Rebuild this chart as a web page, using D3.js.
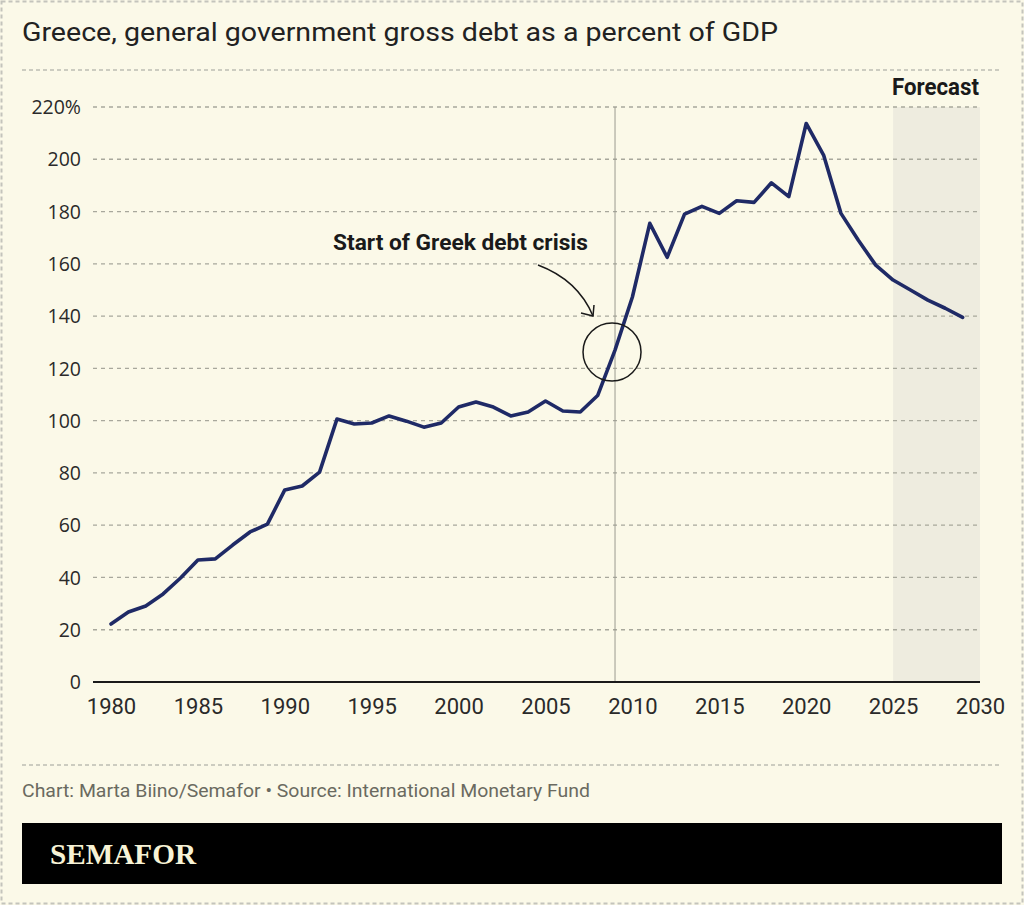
<!DOCTYPE html>
<html>
<head>
<meta charset="utf-8">
<script src="https://cdn.jsdelivr.net/npm/d3@7"></script>
<style>
html,body{margin:0;padding:0;background:#fbf9e8;}
svg{display:block;}
</style>
</head>
<body>
<svg id="chart" width="1024" height="905"></svg>
<script>
const years = [1980,1981,1982,1983,1984,1985,1986,1987,1988,1989,1990,1991,1992,1993,1994,1995,1996,1997,1998,1999,2000,2001,2002,2003,2004,2005,2006,2007,2008,2009,2010,2011,2012,2013,2014,2015,2016,2017,2018,2019,2020,2021,2022,2023,2024,2025,2026,2027,2028,2029];
const debt = [22.2,26.8,29.1,33.7,39.8,46.7,47.1,52.4,57.4,60.4,73.5,75.0,80.3,100.6,98.7,99.1,101.8,99.8,97.5,99.1,105.2,107.1,105.2,101.8,103.3,107.5,103.7,103.3,109.6,127.0,147.3,175.5,162.5,179.0,182.0,179.3,184.1,183.5,191.0,185.7,213.7,201.6,179.3,169.0,159.5,153.8,150.0,146.1,143.0,139.5];
const yTicks = [0,20,40,60,80,100,120,140,160,180,200,220];
const xTicks = [1980,1985,1990,1995,2000,2005,2010,2015,2020,2025,2030];
const forecastRange = [2025,2030];
const crisisYear = 2009;
const title = "Greece, general government gross debt as a percent of GDP";
const annotation = "Start of Greek debt crisis";
const source = "Chart: Marta Biino/Semafor • Source: International Monetary Fund";

const svg = d3.select("#chart");
const W = 1024, H = 905;
const bg = "#fbf9e8";
svg.append("rect").attr("width",W).attr("height",H).attr("fill",bg);
svg.append("rect").attr("x",1.5).attr("y",1.5).attr("width",W-3).attr("height",H-3)
  .attr("fill","none").attr("stroke","#c4c4bc").attr("stroke-width",2).attr("stroke-dasharray","4,3");

const x = d3.scaleLinear().domain([1980,2030]).range([111,980]);
const y = d3.scaleLinear().domain([0,220]).range([682,107]);

svg.append("text").attr("x",22).attr("y",41).text(title)
  .attr("font-family","Roboto, 'Liberation Sans', sans-serif").attr("font-size",25)
  .attr("fill","#222").attr("textLength",756).attr("lengthAdjust","spacingAndGlyphs");
svg.append("line").attr("x1",22).attr("x2",1002).attr("y1",70).attr("y2",70)
  .attr("stroke","#bdbdb3").attr("stroke-width",1.5).attr("stroke-dasharray","4,3");

svg.append("rect").attr("x",x(forecastRange[0])).attr("width",x(forecastRange[1])-x(forecastRange[0]))
  .attr("y",y(220)).attr("height",y(0)-y(220)).attr("fill","#eeecdf");
svg.append("text").attr("x",x(forecastRange[1])-1).attr("y",95).attr("text-anchor","end")
  .text("Forecast").attr("font-family","Roboto, sans-serif").attr("font-weight",700)
  .attr("font-size",23).attr("fill","#1a1a1a").attr("textLength",87).attr("lengthAdjust","spacingAndGlyphs");

const gridG = svg.append("g");
gridG.selectAll("line").data(yTicks.filter(d=>d>0)).join("line")
  .attr("x1",93).attr("x2",980).attr("y1",d=>y(d)).attr("y2",d=>y(d))
  .attr("stroke","#a8a89c").attr("stroke-width",1.3).attr("stroke-dasharray","4,4");

const yAxis = d3.axisLeft(y).tickValues(yTicks).tickSize(0).tickPadding(0)
  .tickFormat(d=> d===220 ? "220%" : d);
const yg = svg.append("g").attr("transform","translate(81,0)").call(yAxis);
yg.select(".domain").remove();
yg.selectAll("text").attr("font-family","'Open Sans', sans-serif").attr("font-size",19.5).attr("fill","#2a2a2a").attr("dy","0.34em");

svg.append("line").attr("x1",x(crisisYear)).attr("x2",x(crisisYear)).attr("y1",y(220)).attr("y2",y(0))
  .attr("stroke","#9a9a90").attr("stroke-width",1);

svg.append("line").attr("x1",93).attr("x2",980).attr("y1",y(0)).attr("y2",y(0))
  .attr("stroke","#1a1a1a").attr("stroke-width",2);

const xAxis = d3.axisBottom(x).tickValues(xTicks).tickSize(0).tickPadding(0).tickFormat(d3.format("d"));
const xg = svg.append("g").attr("transform",`translate(0,${y(0)})`).call(xAxis);
xg.select(".domain").remove();
xg.selectAll("text").attr("font-family","'Liberation Sans Narrow', 'Roboto', sans-serif").attr("font-size",22)
  .attr("fill","#2a2a2a").attr("dy","1.45em");

const line = d3.line().x((d,i)=>x(years[i])).y(d=>y(d));
svg.append("path").datum(debt).attr("d",line).attr("fill","none")
  .attr("stroke","#1f2a66").attr("stroke-width",3.6).attr("stroke-linejoin","round").attr("stroke-linecap","round");

svg.append("text").attr("x",333).attr("y",250).text(annotation)
  .attr("font-family","Roboto, sans-serif").attr("font-weight",700).attr("font-size",22)
  .attr("fill","#1a1a1a").attr("textLength",255).attr("lengthAdjust","spacingAndGlyphs");
const ax0 = 538, ay0 = 265, ax1 = 593, ay1 = 316;
svg.append("path").attr("d",`M${ax0},${ay0} Q${578},${280} ${ax1},${ay1}`)
  .attr("fill","none").attr("stroke","#1a1a1a").attr("stroke-width",1.5);
svg.append("path").attr("d",`M${581},${313} L${ax1},${ay1} L${594},${305}`)
  .attr("fill","none").attr("stroke","#1a1a1a").attr("stroke-width",1.5);
svg.append("circle").attr("cx",x(crisisYear)-3).attr("cy",352).attr("r",29)
  .attr("fill","none").attr("stroke","#1a1a1a").attr("stroke-width",1.5);

svg.append("line").attr("x1",22).attr("x2",1002).attr("y1",765).attr("y2",765)
  .attr("stroke","#bdbdb3").attr("stroke-width",1.5).attr("stroke-dasharray","4,3");
svg.append("text").attr("x",22).attr("y",797).text(source)
  .attr("font-family","'Liberation Sans Narrow','Roboto', sans-serif").attr("font-size",19)
  .attr("fill","#6a6a60").attr("textLength",568).attr("lengthAdjust","spacingAndGlyphs");
svg.append("rect").attr("x",22).attr("y",823).attr("width",980).attr("height",61).attr("fill","#000");
svg.append("text").attr("x",50).attr("y",864).text("SEMAFOR")
  .attr("font-family","'Liberation Serif', serif").attr("font-weight",700).attr("font-size",30)
  .attr("fill","#f7f3d6").attr("textLength",146).attr("lengthAdjust","spacingAndGlyphs");
</script>
</body>
</html>
